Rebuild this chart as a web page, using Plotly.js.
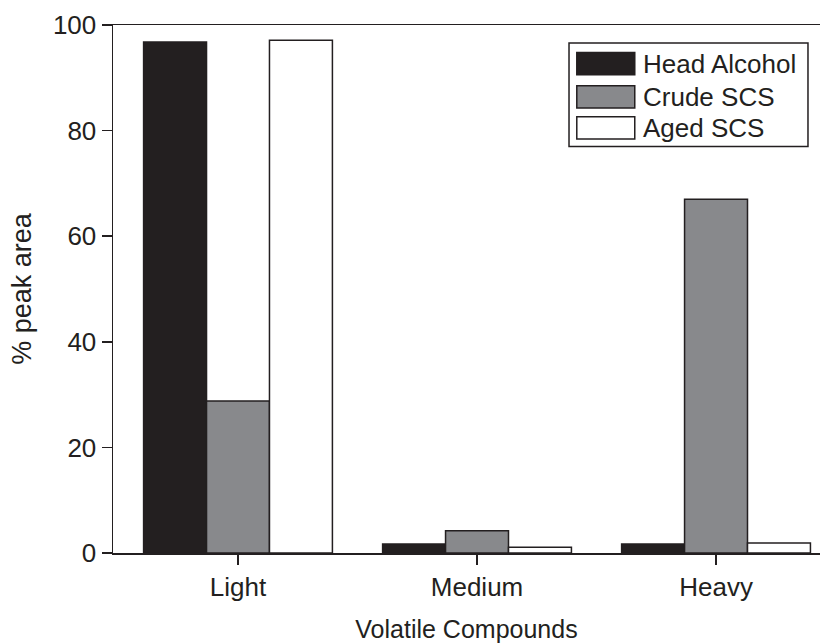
<!DOCTYPE html>
<html>
<head>
<meta charset="utf-8">
<script src="https://cdn.plot.ly/plotly-3.0.1.min.js"></script>
<style>html,body{margin:0;padding:0;background:#fff}#chart{width:823px;height:643px}</style>
</head>
<body>
<div id="chart"></div>
<script>
const categories = ["Light", "Medium", "Heavy"];
const seriesNames = ["Head Alcohol", "Crude SCS", "Aged SCS"];
const headAlcohol = [96.8, 1.7, 1.7];
const crudeSCS = [28.8, 4.2, 67.0];
const agedSCS = [97.1, 1.1, 1.9];
const yTicks = [0, 20, 40, 60, 80, 100];

const fills = ["#231f20", "#88898c", "#ffffff"];
const values = [headAlcohol, crudeSCS, agedSCS];
const FONT = "Liberation Sans, Arial, Helvetica, sans-serif";

const traces = values.map((v, i) => ({
  type: "bar",
  name: seriesNames[i],
  x: categories,
  y: v,
  marker: {color: fills[i], line: {color: "#231f20", width: 1.5}},
  showlegend: false,
  hoverinfo: "x+y+name"
}));

// custom legend (large swatches like the reference)
const shapes = [{
  type: "rect", xref: "paper", yref: "paper",
  x0: 0.645, x1: 0.983, y0: 0.77, y1: 0.966,
  line: {color: "#231f20", width: 1.5}, fillcolor: "rgba(0,0,0,0)"
}];
const annotations = [];
const rowY = [0.927, 0.864, 0.805];
seriesNames.forEach((n, i) => {
  shapes.push({
    type: "rect", xref: "paper", yref: "paper",
    x0: 0.656, x1: 0.738, y0: rowY[i] - 0.021, y1: rowY[i] + 0.021,
    line: {color: "#231f20", width: 1.5}, fillcolor: fills[i]
  });
  annotations.push({
    xref: "paper", yref: "paper", x: 0.747, y: rowY[i],
    xanchor: "left", yanchor: "middle", showarrow: false,
    text: n, font: {family: FONT, size: 26, color: "#231f20"}
  });
});

const layout = {
  width: 823, height: 643,
  margin: {l: 113, r: 3, t: 25, b: 90},
  paper_bgcolor: "#fff", plot_bgcolor: "#fff",
  font: {family: FONT, color: "#231f20"},
  barmode: "group",
  bargap: 0.21, bargroupgap: 0,
  xaxis: {
    type: "category",
    range: [-0.523, 2.435],
    showline: true, linecolor: "#231f20", linewidth: 1.5, mirror: true,
    ticks: "outside", ticklen: 10, tickwidth: 1.5, tickcolor: "#231f20",
    tickfont: {family: FONT, size: 26, color: "#231f20"},
    showgrid: false, zeroline: false,
    title: {text: "Volatile Compounds", font: {family: FONT, size: 25, color: "#231f20"}, standoff: 21}
  },
  yaxis: {
    range: [0, 100],
    tickvals: yTicks,
    showline: true, linecolor: "#231f20", linewidth: 1.5,
    ticks: "outside", ticklen: 10, tickwidth: 1.5, tickcolor: "#231f20",
    tickfont: {family: FONT, size: 26, color: "#231f20"},
    showgrid: false, zeroline: false,
    title: {text: "% peak area", font: {family: FONT, size: 27, color: "#231f20"}, standoff: 13}
  },
  shapes: shapes,
  annotations: annotations
};

Plotly.newPlot("chart", traces, layout, {displayModeBar: false, staticPlot: true});
</script>
</body>
</html>
